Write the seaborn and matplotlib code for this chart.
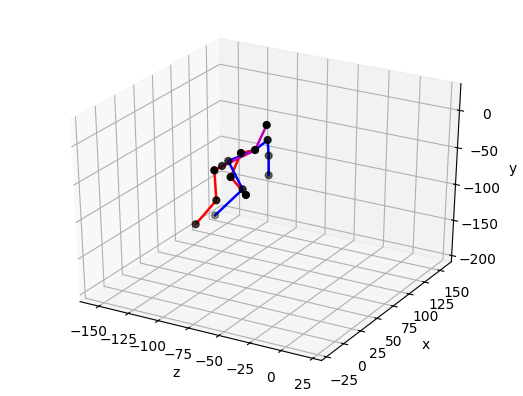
import matplotlib
matplotlib.use("Agg")
import matplotlib.pyplot as plt
import matplotlib.transforms as mtransforms
import seaborn as sns

sns.reset_orig()

# joints: head, l_shoulder, l_elbow, l_wrist, neck, r_shoulder, l_hip, spine,
#         r_hip, r_knee, r_ankle, r_elbow, r_wrist, l_knee, l_ankle
joint_z = [-73.1, -79.1, -92.2, -91.0, -75.6, -82.1, -109.0, -108.1,
           -94.2, -99.8, -114.0, -82.7, -69.2, -89.7, -133.8]
joint_x = [76.3, 88.3, 112.8, 110.7, 64.2, 55.6, 83.4, 73.0,
           39.0, 50.5, 44.7, 42.0, 40.0, 70.6, 105.0]
joint_y = [-2.0, -30.6, -70.3, -95.6, -28.9, -30.1, -66.1, -66.5,
           -47.4, -96.7, -131.2, -54.2, -72.2, -90.4, -163.6]
# how faded each dot looks in the picture
joint_fade = [1, .85, .6, .55, .98, 1, .7, .75, 1, .8, .7, 1, 1, .75, .4]

bones_m = [(0, 4), (4, 7)]
bones_b = [(4, 1), (1, 2), (2, 3), (4, 6), (6, 13), (13, 14)]
bones_r = [(4, 5), (5, 11), (11, 12), (4, 8), (8, 9), (9, 10)]

z_ticks = [-150, -125, -100, -75, -50, -25, 0, 25]
x_ticks = [-25, 0, 25, 50, 75, 100, 125, 150]
y_ticks = [-200, -150, -100, -50, 0]

palette = sns.color_palette(["r", "b", "m"])

W, H = 523, 396
fig = plt.figure(figsize=(W / 100, H / 100), dpi=100)
rect = mtransforms.Bbox.from_bounds(14 / W, 12.5 / H, 496 / W, 369.6 / H)
ax = fig.add_axes(rect.bounds, projection="3d")
# stretch the cube to the whole rect instead of a square box
ax.apply_aspect = lambda position=None: ax._set_position(rect, "active")
ax.set_box_aspect((1, 1, 1), zoom=0.945)

# rgba per point, an alpha array would not follow the 3d depth sort
dot_colors = [(0, 0, 0, f) for f in joint_fade]
ax.scatter(joint_z, joint_x, joint_y, c=dot_colors, s=24, depthshade=False)
for bones, color in zip([bones_r, bones_b, bones_m], palette):
    for i, j in bones:
        ax.plot([joint_z[i], joint_z[j]], [joint_x[i], joint_x[j]],
                [joint_y[i], joint_y[j]], color=color, lw=1.8)

ax.set_xlim(-166, 32)
ax.set_ylim(-32, 169)
ax.set_zlim(-209, 35)
ax.set_xticks(z_ticks)
ax.set_yticks(x_ticks)
ax.set_zticks(y_ticks)
ax.set_xlabel("z")
ax.set_ylabel("x")
ax.set_zlabel("y")
fig.savefig("out.png", dpi=100)
